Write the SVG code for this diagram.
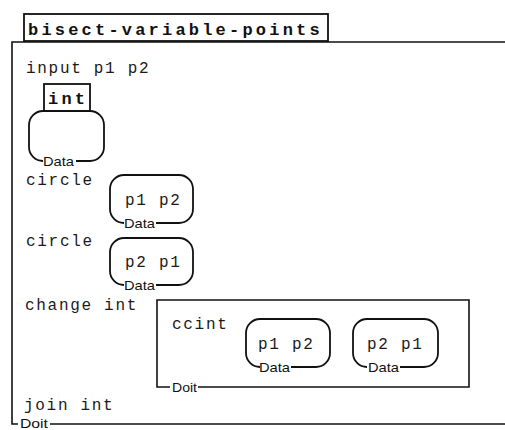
<svg xmlns="http://www.w3.org/2000/svg" width="505" height="430" viewBox="0 0 505 430">
<style>
.bg{fill:#ffffff}
.ln{fill:none;stroke:#111;stroke-width:1.6}
.bx{fill:none;stroke:#111;stroke-width:1.8}
.m{font-family:"Liberation Mono","DejaVu Sans Mono",monospace;font-size:16px;letter-spacing:1.7px;fill:#1a1a1a}
.b{font-family:"Liberation Mono","DejaVu Sans Mono",monospace;font-size:17px;font-weight:bold;letter-spacing:3.2px;fill:#111}
.lbl{font-family:"Liberation Sans",Arial,sans-serif;font-size:13px;fill:#111}
</style>
<rect class="bg" x="0" y="0" width="505" height="430"/>

<g id="frame">
  <path class="ln" d="M505 42 H12 V424 H18 M50 424 H505"/>
  <text class="lbl" x="20" y="427.5" font-size="11" textLength="28" lengthAdjust="spacingAndGlyphs">Doit</text>
</g>

<g id="title">
  <rect class="bx" x="24" y="14" width="304" height="27" fill="#fff"/>
  <text class="b" x="28" y="35">bisect-variable-points</text>
</g>

<g id="input">
  <text class="m" x="26" y="73">input p1 p2</text>
</g>

<g id="int-data">
  <path class="bx" d="M76 161 H90 A14 14 0 0 0 104 147 V125 A14 14 0 0 0 90 111 H43 A14 14 0 0 0 29 125 V147 A14 14 0 0 0 43 161"/>
  <text class="lbl" x="43" y="165.5" textLength="31" lengthAdjust="spacingAndGlyphs">Data</text>
  <rect class="bx" x="44" y="84" width="46" height="27" fill="#fff"/>
  <text class="b" x="48" y="104">int</text>
</g>

<g id="circle1">
  <text class="m" x="26" y="185">circle</text>
  <path class="bx" d="M156 223 H179 A14 14 0 0 0 193 209 V189 A14 14 0 0 0 179 175 H124 A14 14 0 0 0 110 189 V209 A14 14 0 0 0 124 223"/>
  <text class="m" x="125" y="205">p1 p2</text>
  <text class="lbl" x="124" y="227.5" textLength="31" lengthAdjust="spacingAndGlyphs">Data</text>
</g>

<g id="circle2">
  <text class="m" x="26" y="246">circle</text>
  <path class="bx" d="M156 285 H179 A14 14 0 0 0 193 271 V252 A14 14 0 0 0 179 238 H124 A14 14 0 0 0 110 252 V271 A14 14 0 0 0 124 285"/>
  <text class="m" x="125" y="267">p2 p1</text>
  <text class="lbl" x="124" y="289.5" textLength="31" lengthAdjust="spacingAndGlyphs">Data</text>
</g>

<g id="change">
  <text class="m" x="25" y="310">change int</text>
  <path class="ln" d="M198 387 H469 V300 H157 V387 H170"/>
  <text class="lbl" x="172" y="391.5" textLength="25" lengthAdjust="spacingAndGlyphs">Doit</text>
  <text class="m" x="172" y="329">ccint</text>
</g>

<g id="ccint-arg1">
  <path class="bx" d="M291 367 H316 A14 14 0 0 0 330 353 V333 A14 14 0 0 0 316 319 H260 A14 14 0 0 0 246 333 V353 A14 14 0 0 0 260 367"/>
  <text class="m" x="258" y="349">p1 p2</text>
  <text class="lbl" x="259" y="371.5" textLength="31" lengthAdjust="spacingAndGlyphs">Data</text>
</g>

<g id="ccint-arg2">
  <path class="bx" d="M400 367 H424 A14 14 0 0 0 438 353 V333 A14 14 0 0 0 424 319 H367 A14 14 0 0 0 353 333 V353 A14 14 0 0 0 367 367"/>
  <text class="m" x="367" y="349">p2 p1</text>
  <text class="lbl" x="368" y="371.5" textLength="31" lengthAdjust="spacingAndGlyphs">Data</text>
</g>

<g id="join">
  <text class="m" x="24" y="410">join int</text>
</g>

<g id="connectors"></g>
</svg>
